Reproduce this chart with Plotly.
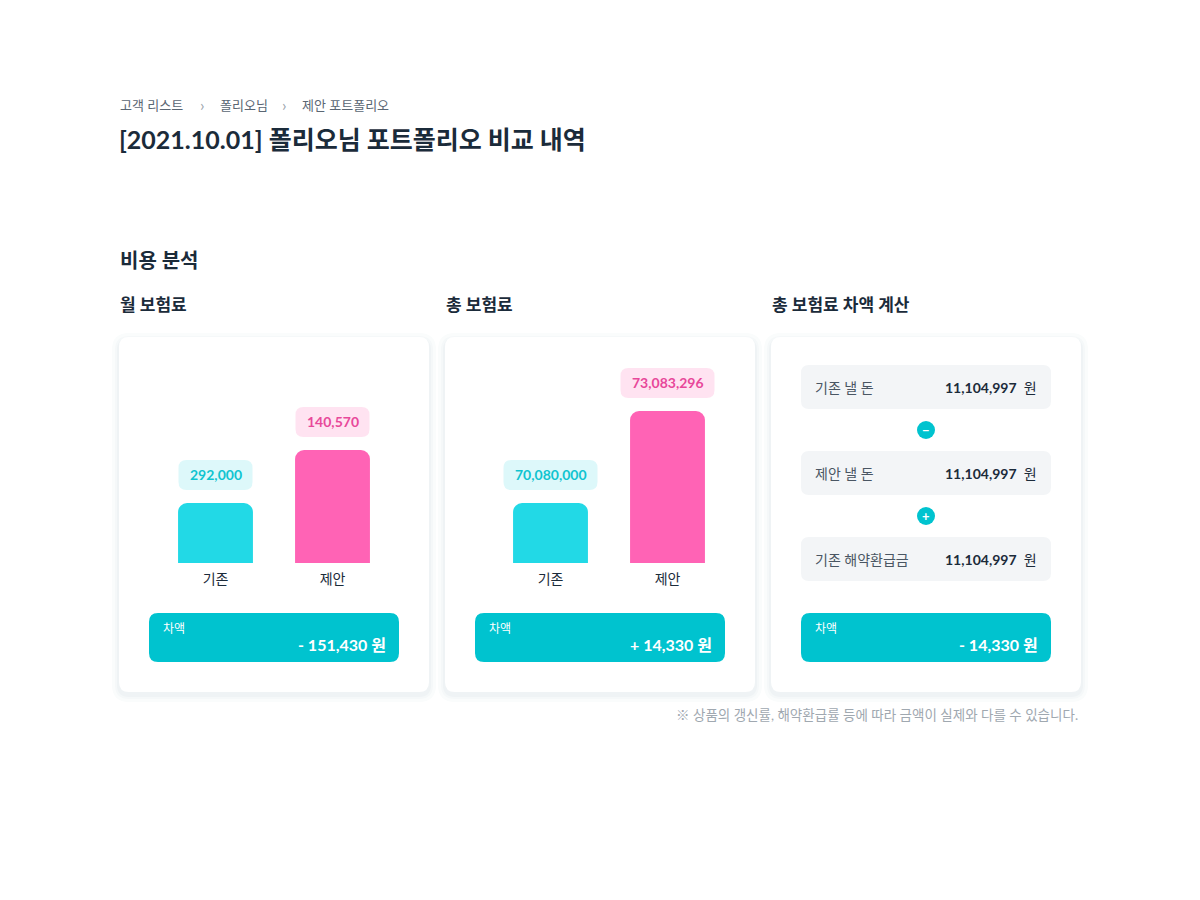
import plotly.graph_objects as go

W, H = 1200, 900
categories = ["기존", "제안"]
monthly_labels = ["292,000", "140,570"]
monthly_heights = [60, 113]
total_labels = ["70,080,000", "73,083,296"]
total_heights = [60, 152]
diff_values = ["- 151,430 원", "+ 14,330 원", "- 14,330 원"]
calc_rows = ["기존 낼 돈", "제안 낼 돈", "기존 해약환급금"]
calc_values = ["11,104,997  원", "11,104,997  원", "11,104,997  원"]
calc_ops = ["−", "+"]

FONT = "Lato, Noto Sans CJK KR, sans-serif"
DARK = "#1B2B3A"
CYAN = "#22D9E6"
PINK = "#FF63B5"
TEAL = "#00C3CF"
OFF = 8

def px(x): return (x - OFF) / W
def py(y): return 1 - (y - OFF) / H

def rrect(x0, y0, x1, y1, r):
    pts = [("M", x0 + r, y0), ("L", x1 - r, y0), ("Q", x1, y0, x1, y0 + r),
           ("L", x1, y1 - r), ("Q", x1, y1, x1 - r, y1), ("L", x0 + r, y1),
           ("Q", x0, y1, x0, y1 - r), ("L", x0, y0 + r), ("Q", x0, y0, x0 + r, y0)]
    s = ""
    for p in pts:
        c = p[0]; v = p[1:]
        coords = []
        for i in range(0, len(v), 2):
            coords.append(f"{px(v[i]):.5f},{py(v[i+1]):.5f}")
        s += c + " " + " ".join(coords) + " "
    return s + "Z"

shapes = []
annotations = []

def add_rr(x0, y0, x1, y1, r, fill):
    shapes.append(dict(type="path", xref="paper", yref="paper", path=rrect(x0, y0, x1, y1, r),
                       fillcolor=fill, line=dict(width=0), layer="below"))

def text(x, y, t, size, color=DARK, bold=False, xanchor="left"):
    annotations.append(dict(x=px(x), y=py(y), xref="paper", yref="paper", text=f"<b>{t}</b>" if bold else t,
                            showarrow=False, xanchor=xanchor, yanchor="middle",
                            font=dict(family=FONT, size=size, color=color)))

text(118, 105, "고객 리스트", 13, "#5A6673")
text(198, 104, "›", 16, "#9AA3AC")
text(218, 105, "폴리오님", 13, "#5A6673")
text(280, 104, "›", 16, "#9AA3AC")
text(300, 105, "제안 포트폴리오", 13, "#5A6673")
text(117, 139, "[2021.10.01] 폴리오님 포트폴리오 비교 내역", 25, DARK, True)
text(118, 260, "비용 분석", 20, DARK, True)
text(118, 304, "월 보험료", 17, DARK, True)
text(444, 304, "총 보험료", 17, DARK, True)
text(770, 304, "총 보험료 차액 계산", 17, DARK, True)
text(1080, 715, "※ 상품의 갱신률, 해약환급률 등에 따라 금액이 실제와 다를 수 있습니다.", 13.5, "#A0A8B0", xanchor="right")

panels_x = [119, 445, 771]
for x0 in panels_x:
    for k, a in [(7, "#FAFCFC"), (4, "#F5F8F9"), (2, "#EFF3F5")]:
        add_rr(x0 - k, 337 - k + 3, x0 + 310 + k, 692 + k + 3, 10 + k, a)
    add_rr(x0, 337, x0 + 310, 692, 10, "white")

for i, x0 in enumerate(panels_x):
    add_rr(x0 + 30, 613, x0 + 280, 662, 9, TEAL)
    text(x0 + 42, 628, "차액", 12, "white")
    text(x0 + 269, 644, diff_values[i], 16, "white", True, "right")

for i, (lab, val) in enumerate(zip(calc_rows, calc_values)):
    y0 = 365 + i * 86
    add_rr(801, y0, 1051, y0 + 44, 8, "#F3F5F7")
    text(813, y0 + 22, lab, 14, "#4A5663")
    text(1039, y0 + 22, f"<b>{val.split('  ')[0]}</b>  {val.split('  ')[1]}", 14, DARK, False, "right")
for i, op in enumerate(calc_ops):
    cy = 430 + i * 86
    shapes.append(dict(type="circle", xref="paper", yref="paper", x0=px(917), x1=px(935), y0=py(cy + 9), y1=py(cy - 9),
                       fillcolor=TEAL, line=dict(width=0)))
    text(926, cy, f"<b>{op}</b>", 13, "white", False, "center")

fig = go.Figure()
charts = [(monthly_heights, monthly_labels, "x", "y"), (total_heights, total_labels, "x2", "y2")]
for heights, labels, xa, ya in charts:
    fig.add_trace(go.Bar(x=categories, y=heights, xaxis=xa, yaxis=ya, width=0.64,
                         marker=dict(color=[CYAN, PINK], cornerradius=9, line=dict(width=0)),
                         hoverinfo="skip", showlegend=False))
    pws = [74 if len(l) < 9 else 94 for l in labels]
    for c, h, l, col, bg, w in zip(categories, heights, labels, ["#10C4D0", "#E8489A"], ["#DDF8FA", "#FFE3F1"], pws):
        shapes.append(dict(type="path", xref=xa, yref=ya, xsizemode="pixel", ysizemode="pixel",
                           xanchor=c, yanchor=h + 28,
                           path=f"M {-w/2+8},-15 L {w/2-8},-15 Q {w/2},-15 {w/2},-7 L {w/2},7 Q {w/2},15 {w/2-8},15 "
                                f"L {-w/2+8},15 Q {-w/2},15 {-w/2},7 L {-w/2},-7 Q {-w/2},-15 {-w/2+8},-15 Z",
                           fillcolor=bg, line=dict(width=0)))
        annotations.append(dict(x=c, y=h + 28, xref=xa, yref=ya, text=f"<b>{l}</b>", showarrow=False,
                                font=dict(family=FONT, size=14, color=col)))

ax = dict(showgrid=False, zeroline=False, showline=False, ticks="", fixedrange=True)
tf = dict(family=FONT, size=14, color=DARK)
fig.update_layout(
    width=W, height=H, margin=dict(l=0, r=0, t=0, b=0), paper_bgcolor="white", plot_bgcolor="rgba(0,0,0,0)",
    xaxis=dict(ax, domain=[px(157), px(391)], range=[-0.5, 1.5], tickfont=tf, ticklabelstandoff=6),
    yaxis=dict(ax, domain=[py(563), py(363)], range=[0, 200], showticklabels=False),
    xaxis2=dict(ax, domain=[px(492), px(726)], range=[-0.5, 1.5], anchor="y2", tickfont=tf, ticklabelstandoff=6),
    yaxis2=dict(ax, domain=[py(563), py(363)], range=[0, 200], showticklabels=False, anchor="x2"),
    shapes=shapes, annotations=annotations,
)
fig.write_html("out.html")
